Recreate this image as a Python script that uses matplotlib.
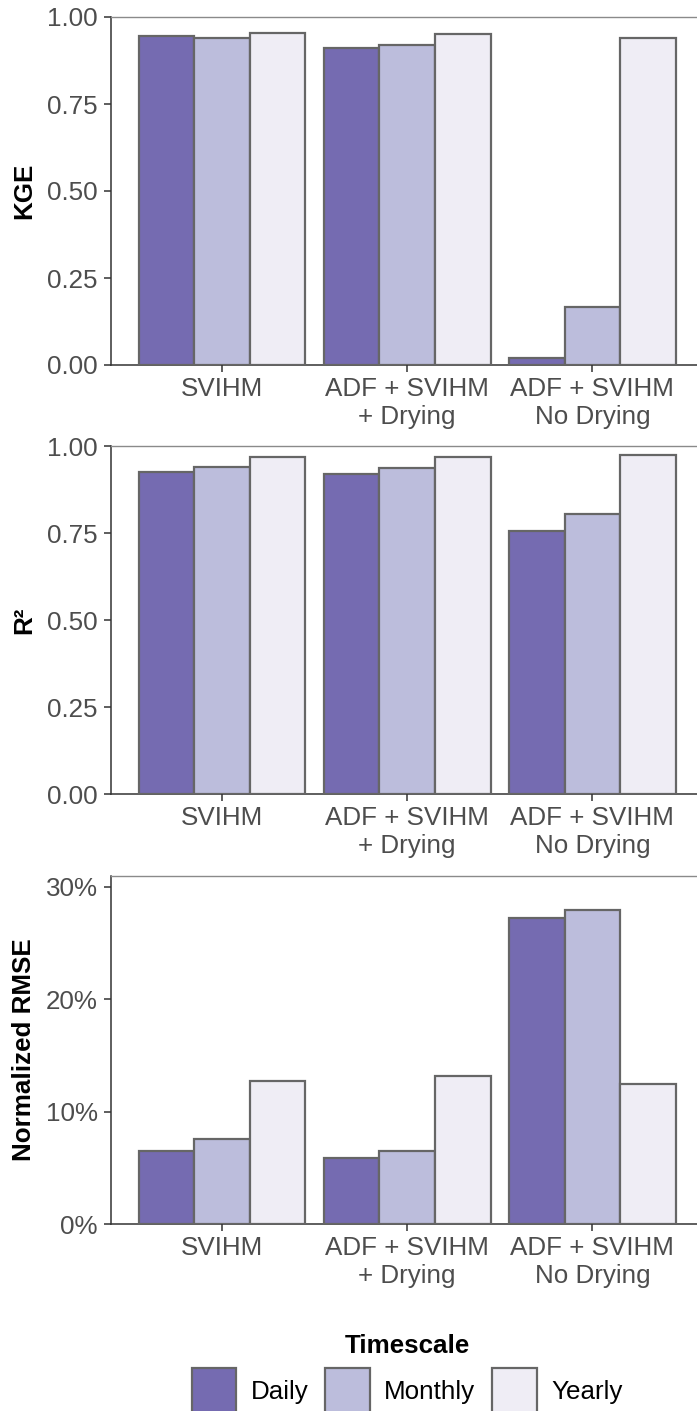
import numpy as np
import matplotlib.pyplot as plt
from matplotlib.ticker import FuncFormatter

plt.rcParams['font.family'] = ['Liberation Sans', 'DejaVu Sans']

models = ["SVIHM", "ADF + SVIHM\n+ Drying", "ADF + SVIHM\nNo Drying"]
timescales = ["Daily", "Monthly", "Yearly"]
colors = ["#756bb1", "#bcbddc", "#efedf5"]

# rows: Daily, Monthly, Yearly ; columns: models
kge = np.array([[0.945, 0.910, 0.019],
                [0.941, 0.920, 0.168],
                [0.953, 0.951, 0.939]])
r2 = np.array([[0.924, 0.920, 0.756],
               [0.939, 0.936, 0.804],
               [0.969, 0.968, 0.974]])
nrmse = np.array([[0.0652, 0.0590, 0.2725],
                  [0.0753, 0.0650, 0.2793],
                  [0.1272, 0.1320, 0.1243]])

metrics = [("KGE", kge, [0, 1.0], [0, 0.25, 0.5, 0.75, 1.0], "num"),
           ("R\u00b2", r2, [0, 1.0], [0, 0.25, 0.5, 0.75, 1.0], "num"),
           ("Normalized RMSE", nrmse, [0, 0.31], [0, 0.1, 0.2, 0.3], "pct")]

W, H = 697, 1411
fig = plt.figure(figsize=(W / 100, H / 100), dpi=100)

left_px, right_px = 111, 703.5
panels_px = [(17, 365), (446, 794.3), (875.7, 1224)]

fs = 18.7
tick_col = "#4D4D4D"
edge = "#666666"

x = np.arange(1, 4)
bw = 0.3
handles = []
for i, ((name, vals, ylim, yticks, kind), (top, bot)) in enumerate(zip(metrics, panels_px)):
    ax = fig.add_axes([left_px / W, 1 - bot / H, (right_px - left_px) / W, (bot - top) / H])
    for j, ts in enumerate(timescales):
        b = ax.bar(x + (j - 1) * bw, vals[j], bw, color=colors[j], edgecolor=edge,
                   linewidth=1.6, label=ts, zorder=3)
        if i == 0:
            handles.append(b)
    ax.set_xlim(0.4, 3.6)
    ax.set_ylim(*ylim)
    ax.set_xticks(x)
    ax.set_xticklabels(models)
    ax.set_yticks(yticks)
    if kind == "pct":
        ax.yaxis.set_major_formatter(FuncFormatter(lambda v, p: f"{v * 100:.0f}%"))
    else:
        ax.yaxis.set_major_formatter(FuncFormatter(lambda v, p: f"{v:.2f}"))
    ax.tick_params(axis="both", labelsize=fs, labelcolor=tick_col, color="#333333",
                   length=5, width=1.1)
    ax.tick_params(axis="y", pad=4.5)
    ax.tick_params(axis="x", pad=3.7)
    for s in ["left", "bottom"]:
        ax.spines[s].set_color("#333333")
        ax.spines[s].set_linewidth(1.1)
    ax.spines["top"].set_color("#8a8a8a")
    ax.spines["top"].set_linewidth(1.0)
    ax.spines["right"].set_visible(False)
    fig.text(24 / W, 1 - (top + bot) / 2 / H, name, rotation=90, ha="center", va="center",
             fontsize=fs, fontweight="bold", color="black")

leg = fig.legend(handles, timescales, loc="lower center",
                 bbox_to_anchor=(((left_px + right_px) / 2) / W, -0.0015),
                 ncol=3, frameon=False, title="Timescale", fontsize=fs,
                 title_fontproperties={"weight": "bold", "size": fs},
                 handlelength=1.72, handleheight=2.29, columnspacing=0.65,
                 handletextpad=0.55, borderpad=0, borderaxespad=0, labelspacing=0.4)

fig.savefig("out.png", dpi=100)
